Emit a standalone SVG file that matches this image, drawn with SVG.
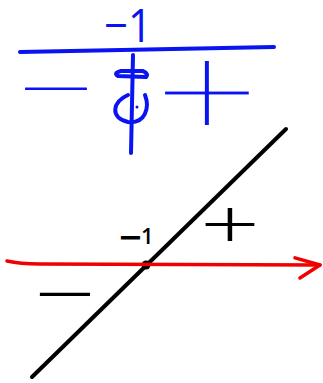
<svg xmlns="http://www.w3.org/2000/svg" width="323" height="383" viewBox="0 0 323 383">
<style>
.b{stroke:#0a14f0;stroke-width:4;fill:none;stroke-linecap:round;stroke-linejoin:round}
.k{stroke:#000;stroke-width:4;fill:none;stroke-linecap:round}
.r{stroke:#f00000;stroke-width:3.5;fill:none;stroke-linecap:round;stroke-linejoin:round}
.tb{font-family:"Open Sans","Liberation Sans",sans-serif;fill:#0a14f0}
.tk{font-family:"Open Sans","Liberation Sans",sans-serif;fill:#000}
</style>
<defs>
<marker id="arr" markerUnits="userSpaceOnUse" viewBox="-30 -20 40 40" markerWidth="40" markerHeight="40" refX="0" refY="0" orient="auto" overflow="visible">
<path d="M-25,-7 L0,0 L-20,13" class="r"/>
</marker>
</defs>
<rect width="323" height="383" fill="#fff"/>
<g id="sign-chart">
<text class="tb" x="104" y="42" font-size="46" font-weight="400" textLength="48" lengthAdjust="spacingAndGlyphs">−1</text>
<path class="b" d="M20,52 L274,47"/>
<path class="b" d="M133,55 L131,153"/>
<path class="b" d="M121,71 L143,71 Q149,74 146,77 L118,76 Q113,73 121,71 Z"/>
<path class="b" d="M128,95 C112,102 110,118 128,122 C145,124 150,108 145,95"/>
<circle cx="137" cy="107" r="1.5" fill="#0a14f0"/>
<text class="tb" x="56" y="110" font-size="60" font-weight="350" text-anchor="middle" textLength="76" lengthAdjust="spacingAndGlyphs">−</text>
<text class="tb" x="207" y="143" font-size="142" font-weight="300" text-anchor="middle" textLength="108" lengthAdjust="spacingAndGlyphs" stroke="#fff" stroke-width="3">+</text>
</g>
<g id="graph">
<path class="k" d="M32,377 L286,129"/>
<circle cx="146" cy="265" r="4.5" fill="#000"/>
<text class="tk" x="119" y="244" font-weight="600"><tspan font-size="40" dy="8">−</tspan><tspan font-size="22" dx="-1" dy="-8">1</tspan></text>
<text class="tk" x="230" y="249" font-size="70" font-weight="350" text-anchor="middle" textLength="60" lengthAdjust="spacingAndGlyphs">+</text>
<text class="tk" x="65" y="312" font-size="50" font-weight="400" text-anchor="middle" textLength="61" lengthAdjust="spacingAndGlyphs">−</text>
</g>
<g id="connectors">
<path class="r" d="M7,261 Q20,264 40,264 L320,265" marker-end="url(#arr)"/>
</g>
</svg>
